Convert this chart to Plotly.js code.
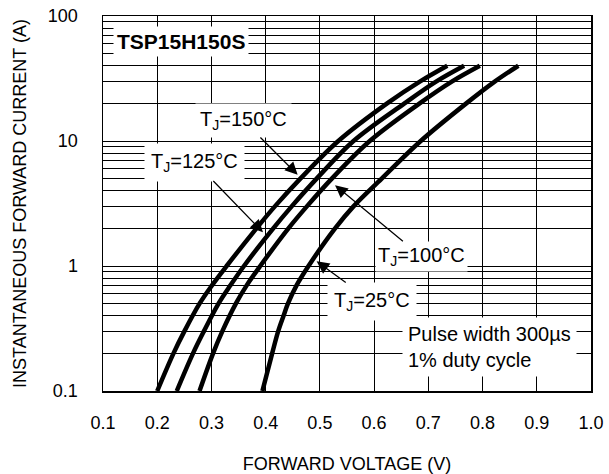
<!DOCTYPE html>
<html>
<head>
<meta charset="utf-8">
<script src="https://cdn.plot.ly/plotly-3.0.1.min.js"></script>
<style>html,body{margin:0;padding:0;background:#fff;}#chart{width:609px;height:474px;}</style>
</head>
<body>
<div id="chart"></div>
<script>
// Forward current points (A)
const currentHot = [0.1, 0.2, 0.3, 0.5, 0.7, 1, 2, 3, 5, 10, 20, 30, 40];
const current25 = [0.1, 0.2, 0.3, 0.4, 0.5, 0.7, 1, 2, 3, 5, 10, 20, 30, 40];
// Forward voltage (V) for each junction temperature
const vf150 = [0.200, 0.230, 0.250, 0.278, 0.301, 0.328, 0.383, 0.417, 0.464, 0.534, 0.624, 0.685, 0.735];
const vf125 = [0.236, 0.266, 0.286, 0.313, 0.335, 0.360, 0.414, 0.448, 0.494, 0.562, 0.656, 0.715, 0.766];
const vf100 = [0.278, 0.303, 0.320, 0.345, 0.365, 0.390, 0.442, 0.476, 0.522, 0.592, 0.684, 0.744, 0.795];
const vf25  = [0.394, 0.412, 0.423, 0.433, 0.441, 0.457, 0.479, 0.528, 0.562, 0.614, 0.686, 0.770, 0.823, 0.866];
const seriesNames = ['TJ=150°C', 'TJ=125°C', 'TJ=100°C', 'TJ=25°C'];
// Tick labels
const xTickVals = [0.1, 0.2, 0.3, 0.4, 0.5, 0.6, 0.7, 0.8, 0.9, 1.0];
const xTickText = ['0.1', '0.2', '0.3', '0.4', '0.5', '0.6', '0.7', '0.8', '0.9', '1.0'];
const yTickVals = [0.1, 1, 10, 100];
const yTickText = ['0.1', '1', '10', '100'];

const FONT = 'Liberation Sans, Arial, Helvetica, sans-serif';
const lineStyle = {color: '#000', width: 4.5, shape: 'spline', smoothing: 1};

const traces = [
  {x: vf150, y: currentHot, name: seriesNames[0]},
  {x: vf125, y: currentHot, name: seriesNames[1]},
  {x: vf100, y: currentHot, name: seriesNames[2]},
  {x: vf25, y: current25, name: seriesNames[3]}
].map(t => Object.assign(t, {type: 'scatter', mode: 'lines', line: lineStyle, hoverinfo: 'skip'}));

const lbl = {font: {family: FONT, size: 20, color: '#000'}, bgcolor: '#fff', showarrow: false, xref: 'x', yref: 'y'};
// labels with arrows: text sits at (ax, ay), arrow tip at (x, y)
const arrowLbl = Object.assign({}, lbl, {showarrow: true, axref: 'x', ayref: 'y',
  arrowhead: 2, arrowsize: 2, arrowwidth: 1.25, arrowcolor: '#000', standoff: 0, startstandoff: 0});

const annotations = [
  Object.assign({}, lbl, {x: 0.243, y: 1.8, text: '<b>TSP15H150S</b>', font: {family: FONT, size: 21, color: '#000'}, borderpad: 3}),
  Object.assign({}, arrowLbl, {ax: 0.359, ay: 1.164, x: 0.459, y: 0.730, text: 'T<sub>J</sub>=150°C', borderpad: 4}),
  Object.assign({}, arrowLbl, {ax: 0.2695, ay: 0.832, x: 0.395, y: 0.270, text: 'T<sub>J</sub>=125°C', borderpad: 6}),
  Object.assign({}, arrowLbl, {ax: 0.6866, ay: 0.078, x: 0.528, y: 0.646, text: 'T<sub>J</sub>=100°C', borderpad: 2}),
  Object.assign({}, arrowLbl, {ax: 0.5957, ay: -0.284, x: 0.494, y: 0.038, text: 'T<sub>J</sub>=25°C', borderpad: 6}),
  Object.assign({}, lbl, {x: 0.652, y: -0.648, xanchor: 'left', align: 'left',
    text: 'Pulse width 300µs<br>1% duty cycle', borderpad: 5})
];

const layout = {
  width: 609, height: 474,
  margin: {l: 103, r: 18, t: 16, b: 83},
  paper_bgcolor: '#fff', plot_bgcolor: '#fff',
  showlegend: false,
  font: {family: FONT, size: 18, color: '#000'},
  xaxis: {
    range: [0.1, 1.0], tickvals: xTickVals, ticktext: xTickText,
    showgrid: true, gridcolor: '#000', gridwidth: 1, zeroline: false,
    showline: true, linecolor: '#000', linewidth: 1.5, mirror: true, ticks: '',
    tickfont: {family: FONT, size: 18, color: '#000'}, ticklabelstandoff: 15,
    title: {text: 'FORWARD VOLTAGE (V)', font: {family: FONT, size: 18, color: '#000'}, standoff: 27}
  },
  yaxis: {
    type: 'log', range: [-1, 2], tickvals: yTickVals, ticktext: yTickText,
    showgrid: true, gridcolor: '#000', gridwidth: 1, zeroline: false,
    showline: true, linecolor: '#000', linewidth: 1.5, mirror: true, ticks: '',
    minor: {dtick: 'D1', showgrid: true, gridcolor: '#000', gridwidth: 1, ticks: ''},
    tickfont: {family: FONT, size: 18, color: '#000'}, ticklabelstandoff: 20,
    title: {text: 'INSTANTANEOUS FORWARD CURRENT (A)', font: {family: FONT, size: 18, color: '#000'}, standoff: 16}
  },
  annotations: annotations
};

Plotly.newPlot('chart', traces, layout, {staticPlot: true, displayModeBar: false});
</script>
</body>
</html>
